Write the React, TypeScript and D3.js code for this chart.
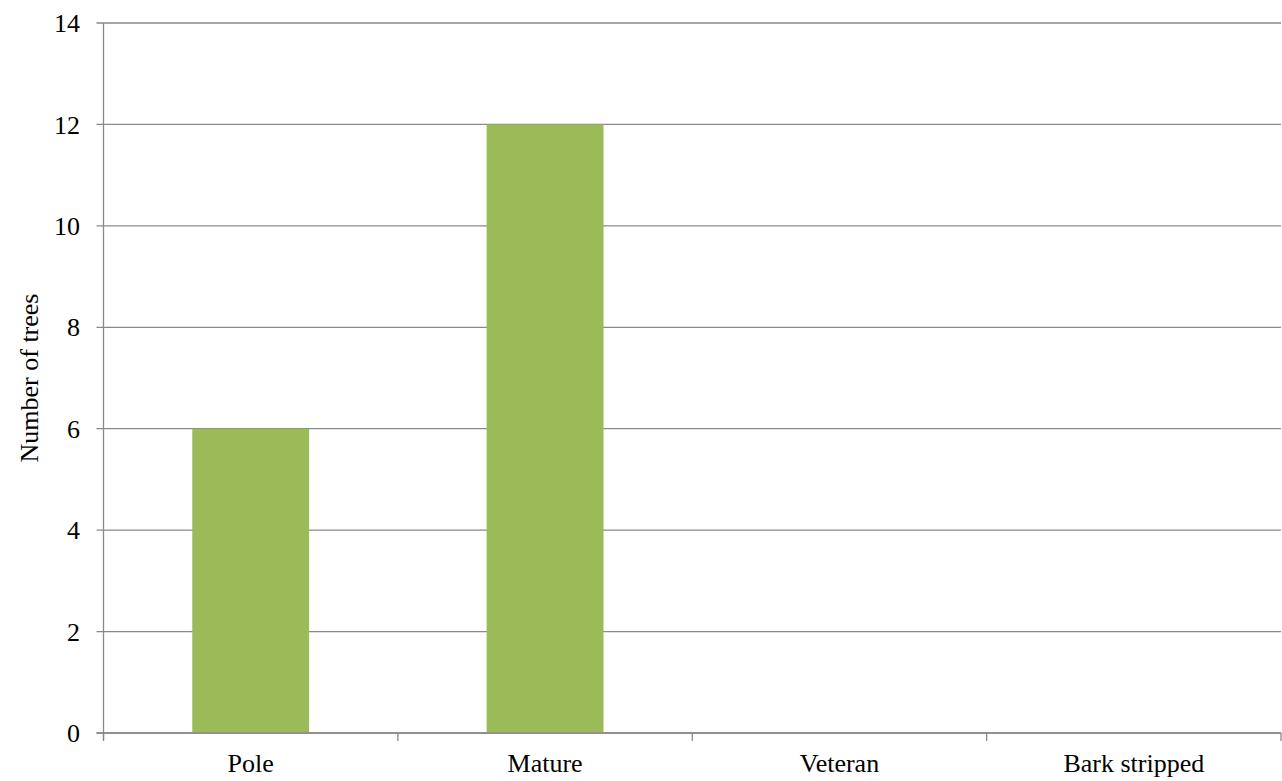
import React from "react";
import * as d3 from "d3";

const categories = ["Pole", "Mature", "Veteran", "Bark stripped"];
const values = [6, 12, 0, 0];
const yTicks = [0, 2, 4, 6, 8, 10, 12, 14];
const yTitle = "Number of trees";

export default function App() {
  const W = 1282, H = 781;
  const left = 103.5, right = 1281, top = 23, bottom = 733;
  const x = d3.scaleBand<string>().domain(categories).range([left, right]).paddingInner(0).paddingOuter(0);
  const y = d3.scaleLinear().domain([0, 14]).range([bottom, top]);
  const bw = x.bandwidth();
  const barW = bw * 0.397;
  const textStyle: React.CSSProperties = { fontFamily: '"Liberation Serif", "Times New Roman", Times, serif', fontSize: "26px" };
  const grid = "#898989";
  const edges = categories.map((c) => x(c)!).concat([right]);
  return (
    <svg width={W} height={H} style={{ position: "absolute", left: 0, top: 0 }}>
      <rect width={W} height={H} fill="#fff" />
      {yTicks.map((t) => (
        <g key={t}>
          <line x1={left - 7} x2={right} y1={y(t)} y2={y(t)} stroke={grid} strokeWidth={1.3} />
          <text x={80} y={y(t)} dy="0.35em" textAnchor="end" style={textStyle} fill="#000">{t}</text>
        </g>
      ))}
      {categories.map((c, i) => values[i] > 0 ? (
        <rect key={c} x={x(c)! + (bw - barW) / 2} y={y(values[i])} width={barW} height={y(0) - y(values[i])} fill="#9BBB59" />
      ) : null)}
      <line x1={left} x2={left} y1={top} y2={bottom + 7} stroke={grid} strokeWidth={1.3} />
      <line x1={left - 7} x2={right} y1={bottom} y2={bottom} stroke={grid} strokeWidth={1.3} />
      {edges.map((e, i) => (
        <line key={i} x1={e} x2={e} y1={bottom} y2={bottom + 8} stroke={grid} strokeWidth={1.3} />
      ))}
      {categories.map((c) => (
        <text key={c} x={x(c)! + bw / 2} y={772} textAnchor="middle" style={textStyle} fill="#000">{c}</text>
      ))}
      <text transform={`translate(38,${(top + bottom) / 2}) rotate(-90)`} textAnchor="middle" style={textStyle} fill="#000">{yTitle}</text>
    </svg>
  );
}
